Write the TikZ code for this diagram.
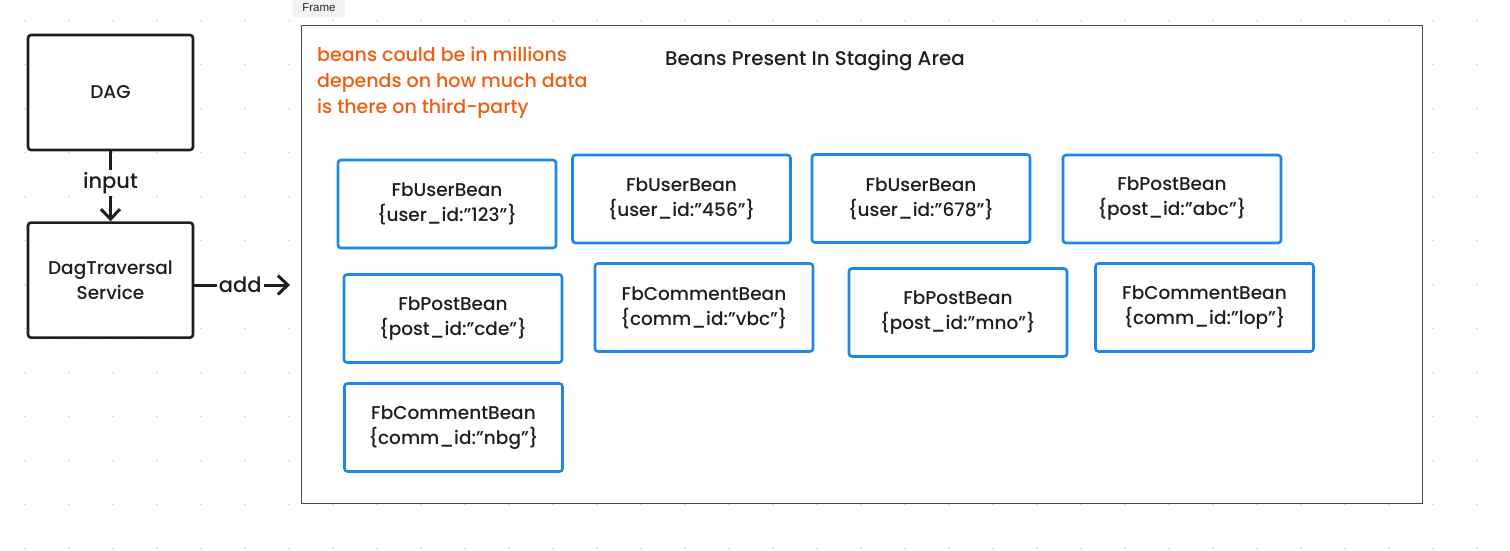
\documentclass[tikz,border=0pt]{standalone}
\usepackage{fontspec}
\setmainfont{Poppins}[BoldFont={Poppins Medium}]
\newfontfamily\tabfont{Liberation Sans}
\usetikzlibrary{arrows.meta,shapes,positioning}

\definecolor{ink}{HTML}{1E1E1E}
\definecolor{beanblue}{HTML}{1E88E5}
\definecolor{noteorange}{HTML}{EE5E12}
\definecolor{framegray}{HTML}{4A4A4A}
\definecolor{tabgray}{HTML}{F1F3F5}
\definecolor{dotminor}{HTML}{E4E4E4}
\definecolor{dotmajor}{HTML}{C8C8C8}

\tikzset{
  handfont/.style = {font=\bfseries\fontsize{18.5}{25}\selectfont},
  dagbox/.style = {
    draw = ink,
    line width = 2.6pt,
    rounded corners = 3pt,
    fill = white,
    text = ink,
    align = center,
    minimum width = 165pt,
    minimum height = 115pt,
    handfont
  },
  beanbox/.style = {
    draw = beanblue,
    line width = 2.6pt,
    rounded corners = 3pt,
    fill = white,
    text = ink,
    align = center,
    minimum width = 218pt,
    minimum height = 88pt,
    handfont
  },
  flow/.style = {draw = ink, line width = 3pt, -{Straight Barb[length=10pt,width=19pt]}},
  flowlabel/.style = {fill = white, inner sep = 2pt, text = ink, font=\bfseries\fontsize{21}{24}\selectfont}
}

\begin{document}
\begin{tikzpicture}[x=1pt, y=-1pt]
  \useasboundingbox (0,0) rectangle (1510,550);

  % canvas dots
  \foreach \r in {0,...,49}
    \draw[dotminor, line width=1.3pt, line cap=round, dash pattern=on 0pt off 11pt]
      (3,\r*11+9.7) -- (1510,\r*11+9.7);
  \foreach \r in {0,...,12}
    \draw[dotmajor, line width=1.5pt, line cap=round, dash pattern=on 0pt off 44pt]
      (25,\r*44+20.7) -- (1510,\r*44+20.7);

  % frame
  \node (frame) [draw=framegray, line width=1pt, fill=white, inner sep=0pt,
    minimum width=1121pt, minimum height=478pt] at (861.5,264) {};
  \node (tab) [fill=tabgray, rounded corners=3pt, text=black!85, inner sep=0pt,
    minimum width=52pt, minimum height=19pt, font=\tabfont\fontsize{11.5}{13}\selectfont]
    at (319,8) {Frame};

  % left side
  \node (dag) [dagbox] at (110.5,92.5) {DAG};
  \node (dts) [dagbox, below=70pt of dag] {DagTraversal\\Service};
  \coordinate (addend) at (290,285);

  \draw[flow] (dag) -- (dts) node[flowlabel, pos=0.45] {input};
  \draw[flow] (dts.east |- addend) -- (addend) node[flowlabel, pos=0.48] {add};

  % notes
  \node (note) [anchor=north west, align=left, text=noteorange, inner sep=0pt,
    font=\bfseries\fontsize{19}{26}\selectfont] at (317,47)
    {beans could be in millions\\depends on how much data\\is there on third-party};
  \node (title) [text=ink, font=\bfseries\fontsize{19.8}{22}\selectfont] at (815,61)
    {Beans Present In Staging Area};

  % beans
  \node (user1) [beanbox] at (447,204) {FbUserBean\\\{user\_id:"123"\}};
  \node (user2) [beanbox] at (681.5,199) {FbUserBean\\\{user\_id:"456"\}};
  \node (user3) [beanbox] at (921,198.5) {FbUserBean\\\{user\_id:"678"\}};
  \node (post1) [beanbox] at (1172,199) {FbPostBean\\\{post\_id:"abc"\}};
  \node (post2) [beanbox] at (453,318.5) {FbPostBean\\\{post\_id:"cde"\}};
  \node (comm1) [beanbox] at (704,307.5) {FbCommentBean\\\{comm\_id:"vbc"\}};
  \node (post3) [beanbox] at (958,312.5) {FbPostBean\\\{post\_id:"mno"\}};
  \node (comm2) [beanbox] at (1204.5,307.5) {FbCommentBean\\\{comm\_id:"lop"\}};
  \node (comm3) [beanbox] at (453.5,427.5) {FbCommentBean\\\{comm\_id:"nbg"\}};

\end{tikzpicture}
\end{document}
